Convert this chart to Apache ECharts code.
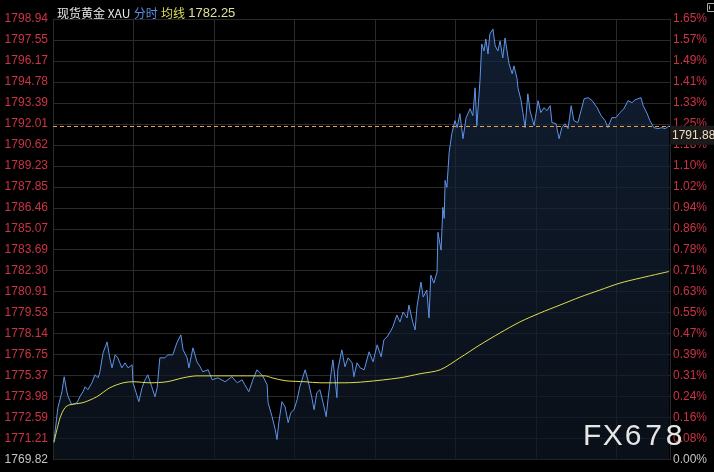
<!DOCTYPE html>
<html><head><meta charset="utf-8">
<script src="https://cdn.jsdelivr.net/npm/echarts@6/dist/echarts.min.js"></script>
<style>html,body{margin:0;padding:0;background:#000;}#c{width:714px;height:472px;}</style>
</head><body><div id="c"></div>
<script>
// Tick labels (bottom to top)
const leftTicks = ['1769.82','1771.21','1772.59','1773.98','1775.37','1776.75','1778.14','1779.53','1780.91','1782.30','1783.69','1785.07','1786.46','1787.85','1789.23','1790.62','1792.01','1793.39','1794.78','1796.17','1797.55','1798.94'];
const rightTicks = ['0.00%','0.08%','0.16%','0.24%','0.31%','0.39%','0.47%','0.55%','0.63%','0.71%','0.78%','0.86%','0.94%','1.02%','1.10%','1.18%','1.25%','1.33%','1.41%','1.49%','1.57%','1.65%'];
const sessionMinutes = 1380;
const gridStepMinutes = 180;

// Price line: minutes from session open, price
const times = [2,11,20,25,31,34,42,54,60,67,72,78,87,94,101,105,110,112,121,127,132,139,145,154,161,168,177,179,186,192,199,206,212,221,228,233,239,250,257,268,277,286,291,300,304,313,322,329,335,347,
356,369,385,400,412,423,429,438,447,456,463,470,474,479,481,490,497,501,505,512,519,526,532,539,546,552,564,570,579,584,590,597,604,611,615,622,626,631,635,637,646,653,660,669,673,680,687,696,
707,716,725,734,740,
747,754,760,769,776,783,792,796,805,810,814,823,828,836,841,845,852,859,861,868,872,875,877,881,886,892,899,904,910,917,924,933,939,944,948,955,959,964,968,973,977,984,989,995,
1000,1006,1011,1015,1020,1027,1031,1038,1040,1047,1051,1056,1062,1067,1076,1085,1091,1098,1105,1112,1116,1125,1132,1138,1145,1152,1159,1165,1174,1181,1188,1197,1206,1217,1226,1235,1241,1250,1259,1268,1277,1286,1295,1302,1315,1320,1329,1335,1344,1353,1362,1369,1378];
const prices = [1771.01,1773.25,1774.30,1775.29,1774.30,1773.97,1773.44,1773.58,1773.97,1774.30,
1774.63,1774.43,1774.89,1775.42,1775.22,1775.62,1776.54,1776.87,1777.59,1776.54,
1775.88,1776.74,1776.54,1775.88,1776.21,1775.88,1776.08,1774.89,1774.23,1773.64,
1774.56,1775.09,1775.42,1774.63,1773.97,1774.56,1776.54,1776.54,1776.74,1776.74,
1777.53,1778.06,1777.07,1776.54,1775.88,1777.20,1776.28,1775.95,1775.62,1775.75,
1775.09,1775.22,1774.96,1775.29,1774.89,1775.09,1774.76,1774.30,1775.09,1775.75,
1775.55,1775.29,1775.42,1774.76,1773.58,1772.65,1771.80,1771.14,1772.26,1773.64,
1773.31,1772.26,1772.92,1773.11,1773.77,1774.63,1775.75,1775.09,1773.91,1773.11,
1774.23,1774.43,1773.58,1772.65,1773.77,1775.55,1776.41,1775.09,1773.91,1775.75,
1777.07,1775.95,1776.54,1776.21,1775.29,1776.21,1775.88,1775.75,
1776.94,1776.28,1777.40,1776.61,1777.73,
1777.92,1778.25,1778.58,1779.37,1778.91,1779.57,1779.18,1780.03,1778.85,1778.39,
1779.90,1781.55,1780.56,1781.02,1779.18,1782.01,1781.48,1782.21,1784.84,1783.66,
1786.49,1785.76,1788.27,1787.81,1790.11,1791.36,1792.22,1791.76,1792.68,1791.03,
1792.42,1793.01,1792.55,1794.39,1791.89,1794.86,1797.29,1796.83,1797.62,1796.63,
1797.95,1798.28,1797.16,1796.83,
1797.49,1796.37,1797.69,1797.82,1795.98,1795.32,1795.84,1794.99,1794.39,1793.54,
1792.75,1791.76,1794.00,1792.88,1791.89,1793.54,1792.75,1793.08,1792.88,1793.21,
1792.09,1792.02,1791.03,1791.76,1792.02,1791.69,1793.21,1792.22,1792.09,1792.88,
1793.67,1793.74,1793.54,1793.08,1792.55,1792.22,1791.76,1792.42,1792.42,1792.75,
1793.01,1793.54,1793.41,1793.60,1793.74,1793.21,1792.68,1792.22,1791.76,1791.69,
1791.76,1791.69,1791.88];

// Average line
const avgTimes = [2,16,27,38,67,98,127,157,179,217,255,291,322,396,474,490,519,564,597,653,698,776,821,866,910,955,1000,1044,1089,1134,1179,1223,1268,1313,1378];
const avgPrices = [1770.94,1772.59,1773.25,1773.44,1773.58,1773.97,1774.56,1774.89,1774.96,1774.89,1774.96,1775.22,1775.35,1775.35,1775.35,1775.22,1775.03,1774.96,1774.89,1774.89,1774.96,1775.22,1775.49,1775.75,1776.54,1777.40,1778.19,1778.91,1779.50,1780.03,1780.56,1781.02,1781.48,1781.81,1782.25];

const titleName = '现货黄金 XAU';
const labelMinute = '分时';
const labelAvg = '均线';
const watermark = 'FX678';

const yMin = parseFloat(leftTicks[0]);
const yMax = parseFloat(leftTicks[leftTicks.length - 1]);
const yStep = (yMax - yMin) / (leftTicks.length - 1);
const idx = v => Math.round((parseFloat(v) - yMin) / yStep);
const lastPrice = prices[prices.length - 1];
const lastAvg = avgPrices[avgPrices.length - 1];

const priceData = times.map((t, i) => [t, prices[i]]);
const avgData = avgTimes.map((t, i) => [t, avgPrices[i]]);

const chart = echarts.init(document.getElementById('c'), null, {renderer: 'canvas'});
const gridColor = '#2a2a2a';
const font = 'Liberation Sans, Arial, sans-serif';

const wmRich = {};
const wmText = watermark.split('').map(ch => '{c|' + ch + '}').join('');

chart.setOption({
  backgroundColor: '#000',
  animation: false,
  textStyle: {fontFamily: font},
  title: {
    left: 52, top: 2,
    text: '{w|' + titleName + '} {b|' + labelMinute + '} {y|' + labelAvg + '} {v|' + lastAvg.toFixed(2) + '}',
    textStyle: {
      fontSize: 12, fontWeight: 'normal',
      rich: {
        w: {color: '#e8e8e8', fontSize: 12, fontFamily: 'Noto Sans CJK SC, ' + font},
        b: {color: '#5b8fe6', fontSize: 12, fontFamily: 'Noto Sans CJK SC, ' + font},
        y: {color: '#dede5a', fontSize: 12, fontFamily: 'Noto Sans CJK SC, ' + font},
        v: {color: '#e0e09c', fontSize: 13, fontFamily: font}
      }
    }
  },
  grid: {left: 53, right: 44, top: 19, bottom: 12.5},
  xAxis: {
    type: 'value', min: 0, max: sessionMinutes, interval: gridStepMinutes,
    axisLine: {show: false}, axisTick: {show: false}, axisLabel: {show: false},
    splitLine: {show: true, lineStyle: {color: gridColor, width: 1}}
  },
  yAxis: [
    {
      type: 'value', min: yMin, max: yMax, interval: yStep, position: 'left',
      axisLine: {show: true, lineStyle: {color: gridColor}}, axisTick: {show: false},
      splitLine: {show: true, lineStyle: {color: gridColor, width: 1}},
      axisLabel: {
        margin: 5, fontSize: 12, fontFamily: font,
        color: v => idx(v) === 0 ? '#c4c4c4' : '#cc3344',
        formatter: v => leftTicks[idx(v)] || ''
      }
    },
    {
      type: 'value', min: yMin, max: yMax, interval: yStep, position: 'right',
      axisLine: {show: true, lineStyle: {color: gridColor}}, axisTick: {show: false},
      splitLine: {show: false},
      axisLabel: {
        margin: 3, fontSize: 12, fontFamily: font,
        color: v => idx(v) === 0 ? '#c4c4c4' : '#cc3344',
        formatter: v => rightTicks[idx(v)] || ''
      }
    }
  ],
  series: [
    {
      type: 'line', data: priceData, showSymbol: false, symbol: 'none',
      lineStyle: {color: '#5e93e8', width: 1},
      areaStyle: {
        origin: 'start',
        color: new echarts.graphic.LinearGradient(0, 0, 0, 1, [
          {offset: 0, color: '#172a45'},
          {offset: 1, color: '#0e1622'}
        ])
      },
      z: 3,
      markLine: {
        silent: true, symbol: 'none', animation: false,
        data: [{yAxis: lastPrice}],
        lineStyle: {color: '#e8a050', type: [4, 3], width: 1},
        label: {
          show: true, position: 'end', distance: 0,
          formatter: lastPrice.toFixed(2),
          color: '#f2dcc0', fontSize: 12, fontFamily: font,
          backgroundColor: '#1a1a1a', padding: [4, 2, 3, 2],
          verticalAlign: 'top'
        }
      }
    },
    {
      type: 'line', data: avgData, showSymbol: false, symbol: 'none', smooth: 0.3,
      lineStyle: {color: '#dede50', width: 1}, z: 4
    }
  ],
  graphic: [
    {
      type: 'text', left: 583, top: 422, z: 100,
      style: {
        text: wmText, fill: '#e6e6e6',
        rich: {c: {fontSize: 30, fontFamily: font, color: '#e6e6e6', width: 20.5, align: 'center'}}
      }
    },
    {
      type: 'rect', left: 705, top: 1, z: 100,
      shape: {width: 8, height: 8},
      style: {fill: 'none', stroke: '#aaaaaa', lineWidth: 1}
    },
    {
      type: 'line', left: 707, top: 3, z: 100,
      shape: {x1: 0, y1: 0, x2: 0, y2: 4},
      style: {stroke: '#aaaaaa', lineWidth: 1}
    }
  ]
});
</script>
</body></html>
